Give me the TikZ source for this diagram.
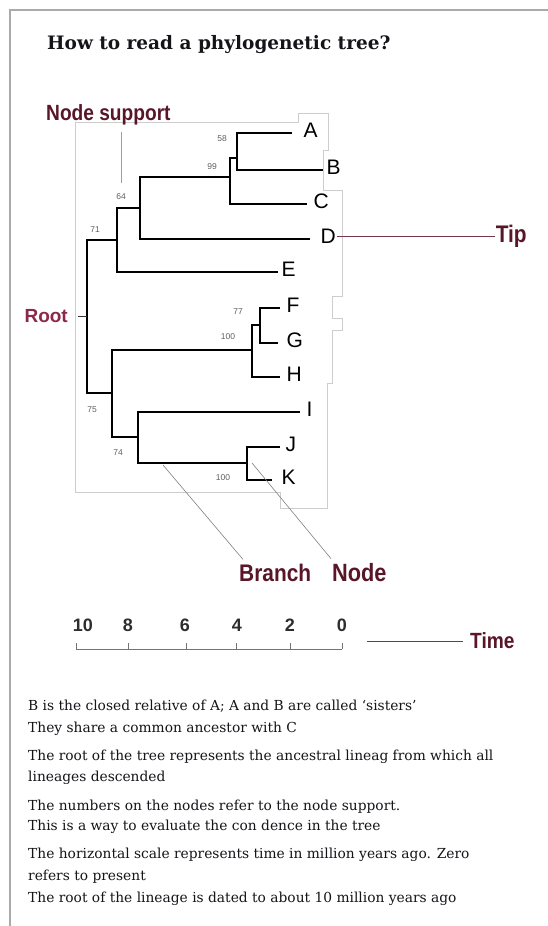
\documentclass[tikz,border=0pt]{standalone}
\usepackage{fontspec}
\setmainfont{DejaVu Serif}
\newfontfamily\leaffont{Liberation Sans}
\newfontfamily\annotfont[FakeStretch=0.87]{Liberation Sans}
\usetikzlibrary{positioning,calc}
\definecolor{maroon}{RGB}{88,22,40}
\definecolor{rootred}{RGB}{140,40,72}
\definecolor{pinkline}{RGB}{215,130,150}
\definecolor{framegray}{RGB}{170,170,170}
\definecolor{boxgray}{RGB}{205,205,205}
\definecolor{supgray}{RGB}{95,95,95}
\definecolor{scalegray}{RGB}{45,45,45}
\definecolor{bodyblack}{RGB}{20,20,25}
\tikzset{
    x=1pt, y=-1pt, node distance=3pt,
    branch/.style={line width=2.7pt},
    leaf/.style={font=\leaffont\fontsize{21}{21}\selectfont, inner sep=0.5pt, yshift=3pt},
    support/.style={font=\leaffont\fontsize{8.5}{9}\selectfont, text=supgray, inner sep=0pt},
    annot/.style={font=\annotfont\bfseries\fontsize{24}{24}\selectfont, text=maroon, inner sep=1pt},
    pointer/.style={gray, line width=0.6pt},
    tipline/.style={maroon!85, line width=0.8pt},
    suppline/.style={pinkline, line width=0.8pt},
    axis/.style={gray!90!black, line width=0.8pt},
    scalelbl/.style={font=\leaffont\bfseries\fontsize{18}{18}\selectfont, text=scalegray, inner sep=0pt},
    bodytext/.style={font=\fontsize{13.8}{16}\selectfont, text=bodyblack, anchor=base west, inner sep=0pt},
    title/.style={font=\bfseries\fontsize{18.5}{19}\selectfont, text=bodyblack, anchor=base west, inner sep=0pt}
}
\begin{document}
\begin{tikzpicture}
    \useasboundingbox (0,0) rectangle (548,926);
    % page frame
    \draw[framegray, line width=2pt] (548,10) -- (10,10) -- (10,926);
    \node[title] (title) at (47,49) {How to read a phylogenetic tree?};

    % outline of the tree picture
    \draw[boxgray, line width=0.8pt] (75,122) -- (298,122) -- (298,113) -- (328,113) -- (328,150)
        -- (323,150) -- (323,190) -- (342,190) -- (342,296) -- (332,296) -- (332,318) -- (342,318)
        -- (342,330) -- (332,330) -- (332,383) -- (327,383) -- (327,508) -- (280,508) -- (280,492)
        -- (75,492) -- cycle;

    % inner nodes of the tree
    \coordinate (n58) at (237,158);
    \coordinate (n99) at (230,177);
    \coordinate (n64) at (140,208);
    \coordinate (n71) at (117,240);
    \coordinate (root) at (87,316);
    \coordinate (n75) at (112,393);
    \coordinate (nFGH) at (252,350);
    \coordinate (n77) at (260,325);
    \coordinate (n74) at (138,437);
    \coordinate (nJK) at (247,463);

    % tips and their labels
    \foreach \n/\x/\y/\g in {A/292/133/11pt, B/323/170/3pt, C/307/204/6pt, D/310/239/10pt,
        E/278/272/3pt, F/280/308/6pt, G/278/343/8pt, H/280/377/6pt, I/300/412/6pt,
        J/280/447/5pt, K/272/480/9pt} {
        \coordinate (t\n) at (\x,\y);
        \node[leaf, right=\g of t\n] (\n) {\n};
    }

    % branches
    \draw[branch] (tA) -| (n58) |- (tB);
    \draw[branch] (n58) -| (n99) |- (tC);
    \draw[branch] (n99) -| (n64) |- (tD);
    \draw[branch] (n64) -| (n71) |- (tE);
    \draw[branch] (n71) -| (root) |- (n75);
    \draw[branch] (tF) -| (n77) |- (tG);
    \draw[branch] (n77) -| (nFGH) |- (tH);
    \draw[branch] (nFGH) -| (n75) |- (n74);
    \draw[branch] (tI) -| (n74) |- (nJK);
    \draw[branch] (tJ) -| (nJK) |- (tK);

    % node support values
    \foreach \nm/\x/\y/\v in {s58/222/139/58, s99/212/167/99, s64/121/197/64, s71/95/230/71,
        s77/238/312/77, s100a/228/337/100, s75/92/410/75, s74/118/453/74, s100b/223/478/100}
        \node[support] (\nm) at (\x,\y) {\v};

    % annotations
    \node[annot, anchor=base west, font=\annotfont\bfseries\fontsize{22}{22}\selectfont] (nsupp) at (45,120) {Node support};
    \draw[suppline, shorten <=6pt, shorten >=11pt] (nsupp.south -| s64) -- (s64.north);

    \node[annot, right=158pt of D] (tip) {Tip};
    \draw[tipline] (D.east) -- (tip.west);

    \coordinate (rootstub) at (78,316);
    \node[annot, text=rootred, font=\leaffont\bfseries\fontsize{19}{19}\selectfont, left=9pt of rootstub] (rootlbl) {Root};
    \draw[black!80, line width=0.8pt] (rootstub) -- (root);

    \node[annot, anchor=base west] (branch) at (238,581) {Branch};
    \node[annot, anchor=base west, font=\annotfont\bfseries\fontsize{25}{25}\selectfont] (nodelbl) at (331,581) {Node};
    \coordinate (brpt) at (163,465);
    \draw[pointer] (brpt) -- ([xshift=5pt,yshift=3pt]branch.north west);
    \draw[pointer] ([xshift=5pt]nJK) -- ([yshift=3pt]nodelbl.north west);

    % time scale
    \foreach \x/\lx/\t in {76/83/10, 128/128/8, 186/185/6, 236/237/4, 290/290/2, 342/342/0} {
        \coordinate (tk\t) at (\x,649);
        \draw[axis] (tk\t) -- ++(0,-6);
        \node[scalelbl] (lb\t) at (\lx,625) {\t};
    }
    \draw[axis] (tk10) -- (tk0);
    \coordinate (timeline) at (367,641);
    \node[annot, font=\annotfont\bfseries\fontsize{22}{22}\selectfont, right=102pt of timeline] (time) {Time};
    \draw[tipline, shorten >=6pt] (timeline) -- (time.west);

    % explanations
    \foreach \yy/\txt [count=\i] in {
        710/{B is the closed relative of A; A and B are called ‘sisters’},
        732/{They share a common ancestor with C},
        760/{The root of the tree represents the ancestral lineag from which all},
        781/{lineages descended},
        810/{The numbers on the nodes refer to the node support.},
        830/{This is a way to evaluate the con dence in the tree},
        858/{The horizontal scale represents time in million years ago. Zero},
        880/{refers to present},
        902/{The root of the lineage is dated to about 10 million years ago}}
        \node[bodytext] (line\i) at (28,\yy) {\txt};
\end{tikzpicture}
\end{document}
